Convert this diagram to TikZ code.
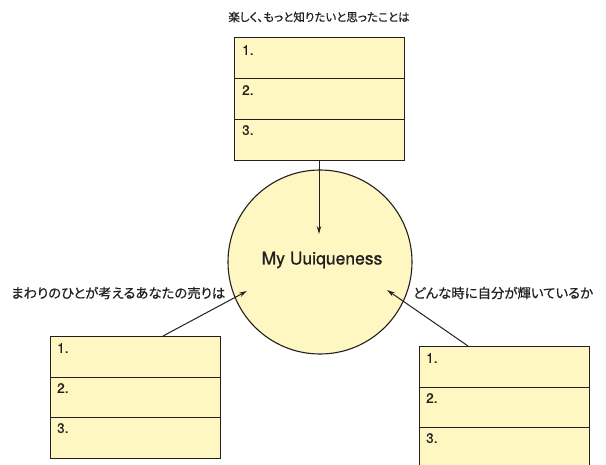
\documentclass[tikz,border=0pt]{standalone}
\usepackage{fontspec}
\setsansfont{TeX Gyre Heros}
\newfontfamily\jp[FakeBold=0.5,RawFeature=+palt]{Noto Sans CJK JP}
\newfontfamily\numfont[FakeBold=0.8]{TeX Gyre Heros}
\usetikzlibrary{arrows.meta}
\definecolor{boxfill}{HTML}{FFF7C2}
\definecolor{linecol}{HTML}{231F20}
\begin{document}
\begin{tikzpicture}[x=1pt,y=-1pt,
  rowbox/.style={draw=linecol, fill=boxfill, line width=1pt, minimum width=170pt, minimum height=41pt, anchor=north west, inner sep=0pt, outer sep=0pt},
  num/.style={anchor=north west, inner sep=0pt, font=\numfont\fontsize{13.5}{15}\selectfont, text=linecol},
  lbl/.style={inner sep=0pt, font=\jp\fontsize{11.5}{13}\selectfont, text=linecol},
  sidelbl/.style={lbl, anchor=west, font=\jp\fontsize{13.4}{15}\selectfont},
  conn/.style={draw=linecol, line width=1pt, -{Stealth[length=8pt,width=4.5pt]}}]
\useasboundingbox (0,0) rectangle (606,464);
\clip (0,0) rectangle (606,464);
% top box
\node[rowbox] (t1) at (234,37) {};
\node[rowbox] (t2) at (234,78) {};
\node[rowbox] (t3) at (234,119) {};
\node[num] (t1n) at (242,45) {1.};
\node[num] (t2n) at (242,85) {2.};
\node[num] (t3n) at (242,125) {3.};
% left box
\node[rowbox] (l1) at (50,336) {};
\node[rowbox] (l2) at (50,377) {};
\node[rowbox] (l3) at (50,417) {};
\node[num] (l1n) at (57,343) {1.};
\node[num] (l2n) at (57,383) {2.};
\node[num] (l3n) at (57,423) {3.};
% right box
\node[rowbox] (r1) at (419,346) {};
\node[rowbox] (r2) at (419,387) {};
\node[rowbox] (r3) at (419,427) {};
\node[num] (r1n) at (426,353) {1.};
\node[num] (r2n) at (426,393) {2.};
\node[num] (r3n) at (426,433) {3.};
% circle
\node[circle, draw=linecol, fill=boxfill, line width=1.1pt, minimum size=184pt, inner sep=0pt] (c) at (320,262) {};
\node[font=\numfont\fontsize{17.5}{19}\selectfont, text=linecol, inner sep=0pt] (ct) at (322,260) {My Uuiqueness};
% labels
\node[lbl] (tl) at (319,17) {楽しく、もっと知りたいと思ったことは};
\node[sidelbl] (ll) at (11,293) {まわりのひとが考えるあなたの売りは};
\node[sidelbl] (rl) at (413,293) {どんな時に自分が輝いているか};
% connectors
\coordinate (tt) at (319,234);
\coordinate (lt) at (247,291);
\coordinate (rt) at (387,290);
\coordinate (ls) at (163,336);
\coordinate (rs) at (468,346);
\draw[conn] (t3.south) -- (tt);
\draw[conn] (ls) -- (lt);
\draw[conn] (rs) -- (rt);
\end{tikzpicture}
\end{document}
